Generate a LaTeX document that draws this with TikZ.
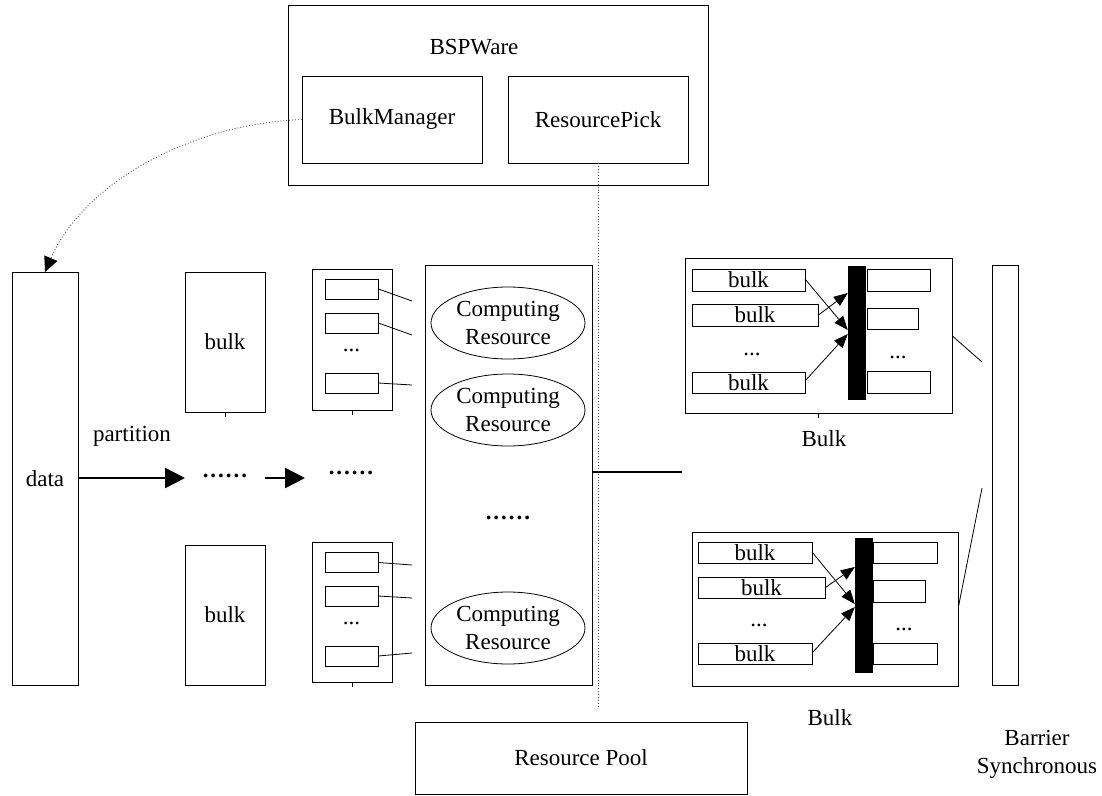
\documentclass[tikz,border=0pt]{standalone}
\usepackage{fontspec}
\setmainfont{Liberation Serif}
\usetikzlibrary{arrows.meta,shapes.geometric}
\newcommand{\sixdots}{\textbf{.\kern2pt.\kern2pt.\kern2pt.\kern2pt.\kern2pt.}}
\begin{document}
\begin{tikzpicture}[x=1pt,y=-1pt,
  every node/.style={font=\fontsize{23}{28}\selectfont},
  box/.style={draw, line width=0.8pt, inner sep=0pt, align=center},
  bar/.style={fill=black, draw=black, inner sep=0pt},
  lnk/.style={line width=0.8pt},
  thickarrow/.style={line width=2.6pt, -{Triangle[length=20pt,width=20pt]}},
  smallarrow/.style={line width=0.8pt, -{Triangle[length=14pt,width=11pt]}},
  dotline/.style={dotted, line width=0.9pt, draw=black!70},
  txt/.style={inner sep=0pt, align=center}]
\useasboundingbox (0,0) rectangle (1102,795);
% top BSPWare
\node[box, minimum width=420pt, minimum height=180pt] (bsp) at (498,95) {};
\node[txt] (bsptxt) at (474,47) {BSPWare};
\node[box, minimum width=180pt, minimum height=87pt] (bm) at (392,119.5) {BulkManager};
\node[box, minimum width=180pt, minimum height=87pt] (rp) at (598,119.5) {ResourcePick};
% data
\node[box, minimum width=66pt, minimum height=413pt] (data) at (45,478.5) {data};
\coordinate (dtop) at (45,272);
\draw[dotline, -{Triangle[length=15pt,width=14pt,color=black]}]
  (bm.west) .. controls (180,125) and (80,190) .. (dtop);
\node[txt] (part) at (132,436) {partition};
% bulks
\node[box, minimum width=80pt, minimum height=140pt] (bulkA) at (225,342) {bulk};
\node[box, minimum width=80pt, minimum height=140pt] (bulkB) at (225,615) {bulk};
\draw[lnk] (bulkA.south) -- ++(0,5);
% groups
\node[box, minimum width=80pt, minimum height=141pt] (grpA) at (352,339.5) {};
\node[box, minimum width=53pt, minimum height=20pt] (a1) at (351.5,289) {};
\node[box, minimum width=53pt, minimum height=20pt] (a2) at (351.5,323) {};
\node[box, minimum width=53pt, minimum height=20pt] (a3) at (351.5,383) {};
\node[txt] (adots) at (351.5,350) {...};
\draw[lnk] (grpA.south) -- ++(0,5);
\coordinate (ca1) at (412,301);
\coordinate (ca2) at (412,335);
\coordinate (ca3) at (412,385);
\draw[lnk] (a1.east) -- (ca1);
\draw[lnk] (a2.east) -- (ca2);
\draw[lnk] (a3.east) -- (ca3);
\node[box, minimum width=80pt, minimum height=140pt] (grpB) at (352,612) {};
\node[box, minimum width=53pt, minimum height=20pt] (b1) at (351.5,562.5) {};
\node[box, minimum width=53pt, minimum height=20pt] (b2) at (351.5,596) {};
\node[box, minimum width=53pt, minimum height=20pt] (b3) at (351.5,656) {};
\node[txt] (bdots) at (351.5,623) {...};
\draw[lnk] (grpB.south) -- ++(0,5);
\coordinate (cb1) at (412,565);
\coordinate (cb2) at (412,598);
\coordinate (cb3) at (412,653);
\draw[lnk] (b1.east) -- (cb1);
\draw[lnk] (b2.east) -- (cb2);
\draw[lnk] (b3.east) -- (cb3);
% arrows and dots
\node[txt] (dots1) at (225,476) {\sixdots};
\node[txt] (dots2) at (351,473) {\sixdots};
\coordinate (ar1e) at (185,478);
\coordinate (ar2s) at (265,478);
\coordinate (ar2e) at (305,478);
\draw[thickarrow] (data.east |- ar1e) -- (ar1e);
\draw[thickarrow] (ar2s) -- (ar2e);
% computing resources
\node[box, minimum width=167pt, minimum height=420pt] (cr) at (508.5,475) {};
\node[box, ellipse, minimum width=154pt, minimum height=72pt, inner sep=0pt] (e1) at (508,323) {Computing\\Resource};
\node[box, ellipse, minimum width=154pt, minimum height=72pt, inner sep=0pt] (e2) at (508,410) {Computing\\Resource};
\node[box, ellipse, minimum width=154pt, minimum height=72pt, inner sep=0pt] (e3) at (508,628) {Computing\\Resource};
\node[txt] (crdots) at (508,518) {\sixdots};
\coordinate (mid) at (682,472);
\draw[line width=2.4pt] (cr.east |- mid) -- (mid);
% dotted resource line
\coordinate (rpend) at (598,708);
\draw[dotline] (rp.south) -- (rpend);
\node[box, minimum width=332pt, minimum height=72pt] (pool) at (581,758) {Resource Pool};
% right bulk 1
\node[box, minimum width=267pt, minimum height=155pt] (bk1) at (818.5,335.5) {};
\node[box, minimum width=113pt, minimum height=22pt] (p11) at (748.5,280) {bulk};
\node[box, minimum width=126pt, minimum height=22pt] (p12) at (755,315) {bulk};
\node[box, minimum width=113pt, minimum height=21pt] (p13) at (748.5,382.5) {bulk};
\node[txt] (p1dots) at (752,354) {...};
\node[bar, minimum width=17pt, minimum height=133pt] (bar1) at (856.5,332.5) {};
\node[box, minimum width=63pt, minimum height=22pt] (q11) at (898.5,280) {};
\node[box, minimum width=51pt, minimum height=21pt] (q12) at (892.5,318.5) {};
\node[box, minimum width=63pt, minimum height=22pt] (q13) at (898.5,382) {};
\node[txt] (q1dots) at (898,357) {...};
\draw[smallarrow] (805,279) -- (bar1.west |- 0,330);
\draw[smallarrow] (p12.east) -- (bar1.west |- 0,293);
\draw[smallarrow] (805,381) -- (bar1.west |- 0,334);
\draw[lnk] (bk1.south) -- ++(0,5);
\node[txt] (bk1lbl) at (824,439) {Bulk};
% right bulk 2
\node[box, minimum width=266pt, minimum height=154pt] (bk2) at (825,609) {};
\node[box, minimum width=114pt, minimum height=21pt] (p21) at (755,552.5) {bulk};
\node[box, minimum width=127pt, minimum height=21pt] (p22) at (761.5,587.5) {bulk};
\node[box, minimum width=114pt, minimum height=21pt] (p23) at (755,653.5) {bulk};
\node[txt] (p2dots) at (759,625) {...};
\node[bar, minimum width=17pt, minimum height=134pt] (bar2) at (863.5,605) {};
\node[box, minimum width=64pt, minimum height=21pt] (q21) at (905,552.5) {};
\node[box, minimum width=52pt, minimum height=22pt] (q22) at (899,591) {};
\node[box, minimum width=64pt, minimum height=21pt] (q23) at (905,653.5) {};
\node[txt] (q2dots) at (904,629) {...};
\draw[smallarrow] (812,552) -- (bar2.west |- 0,604);
\draw[smallarrow] (p22.east) -- (bar2.west |- 0,567);
\draw[smallarrow] (812,653) -- (bar2.west |- 0,607);
\node[txt] (bk2lbl) at (830,718) {Bulk};
% barrier
\node[box, minimum width=26pt, minimum height=420pt] (barrier) at (1005,475) {};
\coordinate (bs1) at (982,362);
\coordinate (bs2) at (982,488);
\draw[lnk] (bk1.east |- 0,336) -- (bs1);
\draw[lnk] (bk2.east |- 0,607) -- (bs2);
\node[txt] (barlbl) at (1037,754) {Barrier\\Synchronous};
\end{tikzpicture}
\end{document}
